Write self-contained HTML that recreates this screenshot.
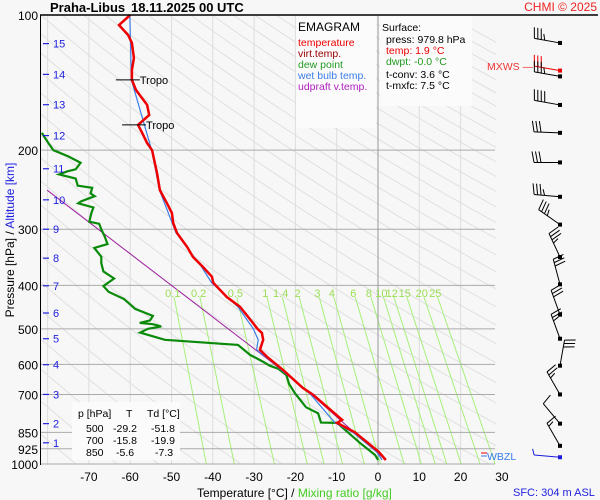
<!DOCTYPE html>
<html><head><meta charset="utf-8">
<style>
html,body{margin:0;padding:0;background:#f7f7f7;}
svg{display:block;font-family:"Liberation Sans",sans-serif;}
</style></head>
<body>
<svg id="chart" width="600" height="500" viewBox="0 0 600 500" xmlns="http://www.w3.org/2000/svg">
<rect x="0" y="0" width="600" height="500" fill="#f7f7f7"/>
<g id="grid"></g>
<g id="series"></g>
<g id="barbs"></g>
<g id="labels"></g>
</svg>
<script>
// ---- data ----
const tempP = [100,105.3,110.8,115.4,124.7,132.6,139.5,146.9,158.6,167,175.7,183.1,192.9,200,224.8,245.6,262.6,276.1,290.4,305.5,328.7,345.9,363.9,382.9,394.7,424.6,446.8,485,500,510.4,528.9,556.6,576.8,617.5,676.7,700,797,810,850,940,979.8];
const tempT = [-60,-62.7,-60.5,-59.6,-59.1,-59.6,-59.6,-58.6,-55.9,-55.4,-58.1,-57.1,-55.9,-54.7,-53.5,-52.8,-51.1,-49.9,-49.6,-48.7,-46.2,-44.8,-42.4,-40.2,-39.9,-36.6,-33.4,-30.3,-29.2,-28.1,-27.8,-28.6,-26.9,-23,-18.2,-15.8,-8.7,-9.9,-5.6,0.2,1.9];
const wetP = [100,139.5,200,245.6,305.5,363.9,394.7,446.8,500,528.9,556.6,576.8,617.5,700,810,850,940,979.8];
const wetT = [-60.1,-59.7,-54.8,-52.9,-48.9,-42.7,-40.3,-33.9,-30.2,-29.0,-29.4,-27.3,-23.4,-16.3,-10.4,-6.1,-0.3,1.0];
const dewP = [183.1,192.9,200,206.5,213.4,220.6,222.9,226.5,231.3,240,242.6,249.6,253.3,260,262.6,268.4,276.1,288.7,291.7,300.3,311.1,323.6,330.3,345.3,357,372.4,386.3,401.6,413.8,429.1,451.4,467.9,478.9,484.9,488.2,493.9,500,509.7,528.9,543,571.2,590.1,604,613.9,633.5,664,695.7,747.5,771,808.5,810,850,897,955,979.8];
const dewT = [-81.4,-79.8,-78.6,-75,-72,-73.2,-75.2,-77.2,-73.2,-72.7,-69.2,-69.6,-68.6,-71.9,-72.6,-68.9,-69.4,-69.9,-67.5,-67,-66.2,-65.5,-68.7,-67,-67,-66.5,-63.9,-66.5,-65.2,-61.5,-58.8,-54.5,-55.2,-57.7,-54.5,-52.5,-55.7,-57.6,-51.6,-33.9,-31,-28.1,-26.2,-24.1,-22.2,-21.5,-20.1,-17.4,-14.5,-13.8,-9.9,-7.3,-4.4,-0.7,0];
const updP = [245.6,566.3,617.5,700,850,979.8];
const updT = [-80.1,-28.6,-23.3,-16.1,-5.8,1.9];
const pTicks = [100,200,300,400,500,600,700,850,925,1000];
const tTicks = [-70,-60,-50,-40,-30,-20,-10,0,10,20,30];
const isoT = [-80,-70,-60,-50,-40,-30,-20,-10,0,10,20,30];
const mixR = [0.1,0.2,0.5,1,1.4,2,3,4,6,8,10,12,15,20,25];
const mixLabels = ["0.1","0.2","0.5","1","1.4","2","3","4","6","8","10","12","15","20","25"];
const altKm = [1,2,3,4,5,6,7,8,9,10,11,12,13,14,15];
const altP = [897,813,700,601,526,461,401,348,300,258,220,185.6,158.4,135.6,115.8];
const barbP = [115.4,133,137,158.6,183,213,254,293,346,398,465,526,604,700,813,911,966];
const barbDir = [280,280,280,280,272,270,275,305,335,345,340,340,10,330,320,330,275];
const barbSpd = [35,30,35,40,30,30,35,35,35,30,30,25,30,25,10,15,5];

// ---- axes ----
const X = t => 378 + 4.13 * t;
const Y = p => 15 + 195 * Math.log(p / 100);
const NS = "http://www.w3.org/2000/svg";
function mk(parent, tag, attrs, txt) {
  const e = document.createElementNS(NS, tag);
  for (const k in attrs) e.setAttribute(k, attrs[k]);
  if (txt !== undefined) e.textContent = txt;
  parent.appendChild(e);
  return e;
}
const grid = document.getElementById('grid');
const series = document.getElementById('series');
const barbs = document.getElementById('barbs');
const labels = document.getElementById('labels');

const defs = mk(document.getElementById('chart'), 'defs', {});
const cp = mk(defs, 'clipPath', {id: 'plotclip'});
mk(cp, 'rect', {x: 41, y: 16, width: 455, height: 449});
grid.setAttribute('clip-path', 'url(#plotclip)');

// dry adiabats
for (let th = 180; th <= 560; th += 10) {
  let d = '';
  for (let p = 100; p <= 1000; p += 10) {
    const T = th * Math.pow(p / 1000, 0.286) - 273.15;
    d += (p === 100 ? 'M' : 'L') + X(T).toFixed(1) + ',' + Y(p).toFixed(1);
  }
  const e = mk(grid, 'path', {d: d, fill: 'none', stroke: '#e0e0e0', 'stroke-width': 1});
  
  
}
// isotherms
isoT.forEach(t => {
  const e = mk(grid, 'line', {x1: X(t), x2: X(t), y1: 15, y2: 465, stroke: t === 0 ? '#999' : '#ddd', 'stroke-width': 1});
  
  
});
// mixing ratio lines
function tdOf(w, p) {
  const e = w * p / (622 + w);
  const l = Math.log(e / 6.112);
  return 243.5 * l / (17.67 - l);
}
mixR.forEach((w, i) => {
  const x1 = X(tdOf(w, 425)), x2 = X(tdOf(w, 1000));
  const e = mk(grid, 'line', {x1: x1, y1: Y(425), x2: x2, y2: Y(1000), stroke: '#a6f07a', 'stroke-width': 1});
  
  
  const t = mk(labels, 'text', {x: X(tdOf(w, 410)), y: 297, 'font-size': 11, fill: '#9ade54', 'text-anchor': 'middle'}, mixLabels[i]);
  
  
});
mk(grid, 'rect', {x: 296, y: 16, width: 80, height: 112, fill: '#fbfbfb'});
mk(grid, 'rect', {x: 380, y: 16, width: 92, height: 90, fill: '#fbfbfb'});
// isobars
pTicks.forEach(p => {
  if (p === 100) return;
  const e = mk(grid, 'line', {x1: 40, x2: 495, y1: Y(p), y2: Y(p), stroke: '#aaa', 'stroke-width': 1});
  
  
});
mk(grid, 'line', {x1: X(0), x2: X(0), y1: 15, y2: 465, stroke: '#999', 'stroke-width': 1});

// frame
mk(labels, 'line', {x1: 40, y1: 15, x2: 598, y2: 15, stroke: '#000', 'stroke-width': 1.5});
mk(labels, 'line', {x1: 40.5, y1: 15, x2: 40.5, y2: 465, stroke: '#000', 'stroke-width': 1});

// series
function path(P, T) { return P.map((p, i) => (i ? 'L' : 'M') + X(T[i]).toFixed(1) + ',' + Y(p).toFixed(1)).join(''); }
let s;
s = mk(series, 'path', {d: path(updP, updT), fill: 'none', stroke: '#a020a0', 'stroke-width': 1});


s = mk(series, 'path', {d: path(dewP, dewT), fill: 'none', stroke: '#0a8a0a', 'stroke-width': 2.2});


s = mk(series, 'path', {d: path(wetP, wetT), fill: 'none', stroke: '#3a7ee8', 'stroke-width': 1.2});


s = mk(series, 'path', {d: path(tempP, tempT), fill: 'none', stroke: '#ee0000', 'stroke-width': 2.5});



// tropopause markers
[[139.5, -59.6], [175.7, -58.1]].forEach(tp => {
  const y = Y(tp[0]), x = X(tp[1]);
  mk(series, 'line', {x1: x - 16, x2: x + 8, y1: y, y2: y, stroke: '#000', 'stroke-width': 1});
  const t = mk(labels, 'text', {x: x + 8, y: y + 4, 'font-size': 11, fill: '#000'}, 'Tropo');
  
  
});

pTicks.forEach(p => {
  const t = mk(labels, 'text', {x: 38, y: Y(p) + 5, 'font-size': 12, 'text-anchor': 'end', fill: '#000'}, String(p));
  
  
});
altKm.forEach((k, i) => {
  const y = Y(altP[i]);
  mk(labels, 'line', {x1: 43, x2: 49, y1: y, y2: y, stroke: '#2020e0', 'stroke-width': 1.2});
  const t = mk(labels, 'text', {x: 53, y: y + 4, 'font-size': 11, fill: '#2020e0'}, String(k));
  
  
});
tTicks.forEach(v => {
  const t = mk(labels, 'text', {x: X(v), y: 481, 'font-size': 12, 'text-anchor': 'middle', fill: '#000'}, String(v));
  
  
});

// wind barbs
barbP.forEach((p, i) => {
  const y0 = Y(p), x0 = 560;
  const a = barbDir[i] * Math.PI / 180;
  const dx = Math.sin(a), dy = -Math.cos(a);
  const L = 26;
  const xe = x0 + dx * L, ye = y0 + dy * L;
  const col = i === 1 ? '#ee0000' : (i === barbP.length - 1 ? '#1a1ae0' : '#000');
  const g = mk(barbs, 'g', {});
  
  
  mk(g, 'line', {x1: x0, y1: y0, x2: xe, y2: ye, stroke: col, 'stroke-width': 1});
  mk(g, 'rect', {x: x0 - 2, y: y0 - 2, width: 4, height: 4, fill: col});
  const px = -dy, py = dx;
  let n = Math.round(barbSpd[i] / 5), k = 0;
  while (n > 0) {
    const bx = xe - dx * k * 3.5, by = ye - dy * k * 3.5;
    const len = n >= 2 ? 11 : 6;
    mk(g, 'line', {x1: bx, y1: by, x2: bx + px * len + dx * 2, y2: by + py * len + dy * 2, stroke: col, 'stroke-width': 1});
    n -= 2; k++;
  }
});
</script>
<svg style="position:absolute;left:0;top:0" width="600" height="500">
<g font-family="Liberation Sans, sans-serif">
<text x="50" y="12" font-size="13" font-weight="bold">Praha-Libus</text>
<text x="131" y="12" font-size="13" font-weight="bold">18.11.2025 00 UTC</text>
<text x="597" y="11" font-size="12" fill="#ee2222" text-anchor="end">CHMI © 2025</text>
<text x="298" y="31" font-size="12">EMAGRAM</text>
<text x="298" y="46" font-size="10.5" fill="#ee0000">temperature</text>
<text x="298" y="57" font-size="10.5" fill="#990000">virt.temp.</text>
<text x="298" y="68" font-size="10.5" fill="#229922">dew point</text>
<text x="298" y="79" font-size="10.5" fill="#3a7ee8">wet bulb temp.</text>
<text x="298" y="90" font-size="10.5" fill="#b020c0">udpraft v.temp.</text>
<text x="382" y="31" font-size="10.5">Surface:</text>
<text x="386" y="43" font-size="10.5">press: 979.8 hPa</text>
<text x="386" y="54" font-size="10.5" fill="#ee0000">temp: 1.9 °C</text>
<text x="386" y="65" font-size="10.5" fill="#229922">dwpt: -0.0 °C</text>
<text x="386" y="78" font-size="10.5">t-conv: 3.6 °C</text>
<text x="386" y="89" font-size="10.5">t-mxfc: 7.5 °C</text>
<text x="487" y="70" font-size="10.5" fill="#ee3333">MXWS —</text>
<rect x="72" y="402" width="108" height="58" fill="#fbfbfb"/>
<g font-size="10.5">
<text x="78" y="417">p [hPa]</text><text x="126" y="417">T</text><text x="147" y="417">Td [°C]</text>
<text x="86" y="432">500</text><text x="113" y="432">-29.2</text><text x="151" y="432">-51.8</text>
<text x="86" y="444">700</text><text x="113" y="444">-15.8</text><text x="151" y="444">-19.9</text>
<text x="86" y="456">850</text><text x="116" y="456">-5.6</text><text x="155" y="456">-7.3</text>
</g>
<line x1="481" y1="453" x2="487" y2="453" stroke="#ee0000"/>
<line x1="481" y1="456" x2="487" y2="456" stroke="#3a7ee8"/>
<text x="487" y="460" font-size="10.5" fill="#3a7ee8">WBZL</text>
<text x="14" y="240" font-size="12" text-anchor="middle" transform="rotate(-90 14 240)">Pressure [hPa]  /  <tspan fill="#2020e0">Altitude [km]</tspan></text>
<text x="197" y="497" font-size="12">Temperature [°C]  /  <tspan fill="#44cc22">Mixing ratio [g/kg]</tspan></text>
<text x="513" y="496" font-size="11" fill="#2020e0">SFC: 304 m ASL</text>
</g>
</svg>
</body></html>
